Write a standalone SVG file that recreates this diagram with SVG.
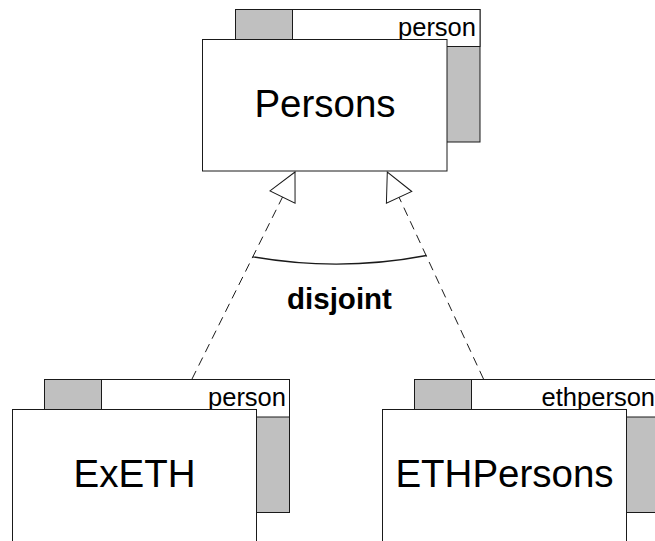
<svg xmlns="http://www.w3.org/2000/svg" width="655" height="541" viewBox="0 0 655 541">
  <style>
    .back { fill: #c0c0c0; stroke: #1a1a1a; stroke-width: 1; }
    .tab { fill: #ffffff; stroke: #1a1a1a; stroke-width: 1; }
    .front { fill: #ffffff; stroke: #1a1a1a; stroke-width: 1; }
    .tag { font-family: "Liberation Sans", Arial, sans-serif; font-size: 25.5px; fill: #000; text-anchor: end; }
    .name { font-family: "Liberation Sans", Arial, sans-serif; font-size: 38.5px; fill: #000; text-anchor: middle; }
    .rel { fill: none; stroke: #1a1a1a; stroke-width: 1; stroke-dasharray: 9 6; }
    .arc { fill: none; stroke: #1a1a1a; stroke-width: 1.3; }
    .label { font-family: "Liberation Sans", Arial, sans-serif; font-size: 29.5px; font-weight: bold; fill: #000; text-anchor: middle; }
  </style>
  <defs>
    <marker id="hollow" markerUnits="userSpaceOnUse" markerWidth="30" markerHeight="30" refX="28" refY="14" orient="auto" overflow="visible">
      <path d="M28,14 L0,0 L0,28 Z" fill="#ffffff" stroke="#1a1a1a" stroke-width="1" stroke-dasharray="none"/>
    </marker>
  </defs>

  <!-- generalisation connectors -->
  <g id="connectors">
    <path class="rel" d="M192,379 L295,172" marker-end="url(#hollow)"/>
    <path class="rel" d="M483.5,379 L387.3,172" marker-end="url(#hollow)"/>
    <path class="arc" d="M252.7,256.8 Q340,272 426.5,255.5"/>
    <text class="label" x="339.5" y="308.5">disjoint</text>
  </g>

  <!-- Persons -->
  <g id="persons">
    <rect class="back" x="235.5" y="9.5" width="244.5" height="132.5"/>
    <rect class="tab" x="292.5" y="9.5" width="187.5" height="37"/>
    <text class="tag" x="476" y="36">person</text>
    <rect class="front" x="202.5" y="39.5" width="244.5" height="131.5"/>
    <text class="name" x="325" y="116.5">Persons</text>
  </g>

  <!-- ExETH -->
  <g id="exeth">
    <rect class="back" x="44.5" y="379.5" width="245" height="133"/>
    <rect class="tab" x="101.5" y="379.5" width="188" height="37.5"/>
    <text class="tag" x="286" y="406">person</text>
    <rect class="front" x="12.5" y="409.5" width="244" height="132"/>
    <text class="name" x="134.5" y="486.5">ExETH</text>
  </g>

  <!-- ETHPersons -->
  <g id="ethpersons">
    <rect class="back" x="414.5" y="379.5" width="245" height="133"/>
    <rect class="tab" x="471.5" y="379.5" width="188" height="37.5"/>
    <text class="tag" x="655" y="406">ethperson</text>
    <rect class="front" x="382.5" y="409.5" width="244" height="132"/>
    <text class="name" x="504.5" y="486.5">ETHPersons</text>
  </g>
</svg>
